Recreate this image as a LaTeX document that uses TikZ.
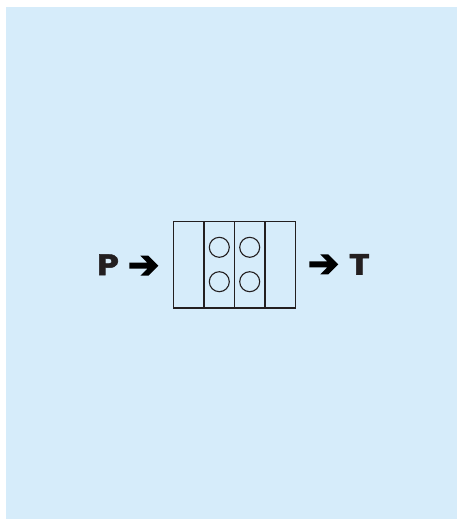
\documentclass[tikz,border=0pt]{standalone}
\usepackage{fontspec}
\setmainfont{DejaVu Sans}
\newfontfamily\heavyfont[BoldFeatures={FakeBold=1.6}]{Poppins}
\definecolor{bgblue}{RGB}{214,236,250}
\definecolor{ink}{RGB}{35,31,32}
\tikzset{
  frame/.style={draw=ink, line width=1.3pt},
  hole/.style={draw=ink, line width=1.1pt, circle, minimum size=20pt, inner sep=0pt},
  letter/.style={text=ink, font=\heavyfont\fontsize{29.5}{32}\selectfont\bfseries, inner sep=0pt, anchor=center},
  arrowfill/.style={fill=black, draw=none}
}
\begin{document}
\begin{tikzpicture}[x=1pt,y=-1pt]
\useasboundingbox (0,0) rectangle (457,519);
\fill[bgblue] (6,7) rectangle (457,519);
% box
\draw[frame] (173.7,221.3) rectangle (295.3,308);
\foreach \xx in {204,234.7,265} \draw[frame] (\xx,221.3) -- (\xx,308);
\node[hole] (c1) at (219.3,247.3) {};
\node[hole] (c2) at (249.7,247.3) {};
\node[hole] (c3) at (219.3,281.7) {};
\node[hole] (c4) at (249.7,281.7) {};
% letters
\node[letter] (P) at (108,264.8) {\scalebox{1.18}[1]{P}};
\node[letter] (T) at (359.3,264.4) {\scalebox{1.18}[1]{T}};
% arrows
\coordinate (a1) at (158.3,265.7);
\coordinate (a2) at (338.3,264.4);
\foreach \tip in {a1,a2}{
  \fill[arrowfill] ([shift={(-29,-3)}]\tip) -- ([shift={(-11,-3)}]\tip) -- ([shift={(-18,-10)}]\tip)
    -- ([shift={(-10,-10)}]\tip) -- (\tip) -- ([shift={(-10,10)}]\tip) -- ([shift={(-18,10)}]\tip)
    -- ([shift={(-11,3)}]\tip) -- ([shift={(-29,3)}]\tip) -- cycle;
}
\end{tikzpicture}
\end{document}
